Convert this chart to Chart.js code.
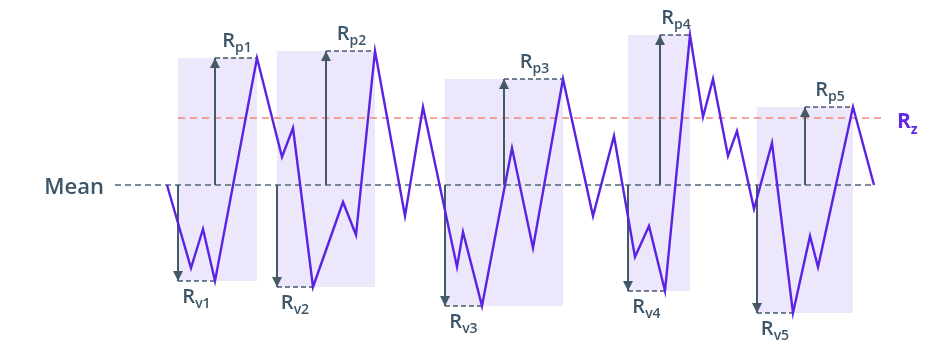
<!DOCTYPE html>
<html>
<head>
<meta charset="utf-8">
<script src="https://cdn.jsdelivr.net/npm/chart.js@4"></script>
<style>
  body { margin: 0; background: #ffffff; }
  #box { width: 950px; height: 352px; }
</style>
</head>
<body>
<div id="box"><canvas id="perfil"></canvas></div>
<script>
// roughness profile (x along the sample, height relative to the mean line)
const profileX = [167, 191, 203, 215, 257, 282, 293, 313, 343, 356, 375, 405, 423, 457, 463, 482, 512, 533,
                  563, 593, 614, 635, 649, 665, 690, 703, 713, 728, 737, 754, 772, 793, 810, 818, 853, 874];
const profileY = [0, -83, -44, -96, 127, 28, 57, -102, -17, -50, 134, -31, 78, -82, -47, -121, 37, -63,
                  106, -31, 49, -72, -41, -106, 150, 68, 106, 29, 54, -24, 42, -128, -51, -82, 78, 0];

// five sampling sections
const sectionStart = [178, 277, 445, 628, 757];
const sectionEnd = [257, 375, 563, 690, 853];
const peakHeight = [127, 134, 106, 150, 78];
const valleyHeight = [-96, -102, -121, -106, -128];
const peakX = [257, 375, 563, 690, 853];
const valleyX = [215, 313, 482, 665, 793];
const peakArrowX = [215, 326, 504, 660, 805];
const peakLabels = ['p1', 'p2', 'p3', 'p4', 'p5'];
const valleyLabels = ['v1', 'v2', 'v3', 'v4', 'v5'];

// reference lines
const meanLevel = 0;
const meanRange = [115, 875];
const rzLevel = 67;
const rzRange = [178, 883];

const corPerfil = '#5a22e2';
const corSeta = '#445a69';
const corTexto = '#3d5568';

var datasets = [];

datasets.push({
    data: profileX.map((x, i) => ({ x: x, y: profileY[i] })),
    borderColor: corPerfil,
    borderWidth: 2.4,
    pointRadius: 0,
    showLine: true,
    order: 0
});

for (let i = 0; i < sectionStart.length; i++) {
    // shaded box
    datasets.push({
        data: [{ x: sectionStart[i], y: peakHeight[i] }, { x: sectionEnd[i], y: peakHeight[i] }],
        borderWidth: 0,
        borderColor: 'rgba(0,0,0,0)',
        backgroundColor: '#ece7fb',
        fill: { value: valleyHeight[i] },
        pointRadius: 0,
        showLine: true,
        order: 10
    });
    // peak arrow
    datasets.push({
        data: [{ x: peakArrowX[i], y: meanLevel }, { x: peakArrowX[i], y: peakHeight[i] }],
        borderColor: corSeta,
        borderWidth: 2,
        pointRadius: 0,
        showLine: true,
        arrow: 'up',
        order: 1
    });
    // valley arrow
    datasets.push({
        data: [{ x: sectionStart[i], y: meanLevel }, { x: sectionStart[i], y: valleyHeight[i] }],
        borderColor: corSeta,
        borderWidth: 2,
        pointRadius: 0,
        showLine: true,
        arrow: 'down',
        order: 1
    });
    // dashed peak / valley levels
    datasets.push({
        data: [{ x: peakArrowX[i], y: peakHeight[i] }, { x: peakX[i], y: peakHeight[i] }],
        borderColor: corSeta,
        borderWidth: 1.5,
        borderDash: [5, 3],
        pointRadius: 0,
        showLine: true,
        order: 2
    });
    datasets.push({
        data: [{ x: sectionStart[i], y: valleyHeight[i] }, { x: valleyX[i], y: valleyHeight[i] }],
        borderColor: corSeta,
        borderWidth: 1.5,
        borderDash: [5, 3],
        pointRadius: 0,
        showLine: true,
        order: 2
    });
}

datasets.push({
    data: [{ x: meanRange[0], y: meanLevel }, { x: meanRange[1], y: meanLevel }],
    borderColor: '#52677a',
    borderWidth: 1.5,
    borderDash: [6, 4],
    pointRadius: 0,
    showLine: true,
    order: 3
});
datasets.push({
    data: [{ x: rzRange[0], y: rzLevel }, { x: rzRange[1], y: rzLevel }],
    borderColor: '#f2877b',
    borderWidth: 1.5,
    borderDash: [7, 5],
    pointRadius: 0,
    showLine: true,
    order: 3
});

function escreverR(ctx, sub, x, y, cor, peso, tam, tamSub, desce, centro) {
    ctx.fillStyle = cor;
    ctx.textBaseline = 'alphabetic';
    ctx.textAlign = 'left';
    ctx.font = `${peso} ${tam}px "Open Sans"`;
    var wR = ctx.measureText('R').width;
    ctx.font = `${peso} ${tamSub}px "Open Sans"`;
    var wS = ctx.measureText(sub).width;
    var x0 = centro ? x - (wR + wS) / 2 : x;
    ctx.font = `${peso} ${tam}px "Open Sans"`;
    ctx.fillText('R', x0, y);
    ctx.font = `${peso} ${tamSub}px "Open Sans"`;
    ctx.fillText(sub, x0 + wR, y + desce);
}

const anotacoes = {
    id: 'anotacoes',
    afterDatasetsDraw(chart) {
        const ctx = chart.ctx;
        const sx = chart.scales.x;
        const sy = chart.scales.y;
        ctx.save();

        // arrow heads
        chart.data.datasets.forEach((ds, k) => {
            if (!ds.arrow) return;
            const meta = chart.getDatasetMeta(k);
            const p = meta.data[meta.data.length - 1];
            const d = ds.arrow === 'up' ? 1 : -1;
            ctx.fillStyle = corSeta;
            ctx.beginPath();
            ctx.moveTo(p.x, p.y);
            ctx.lineTo(p.x - 5, p.y + d * 10);
            ctx.lineTo(p.x + 5, p.y + d * 10);
            ctx.closePath();
            ctx.fill();
        });

        // R labels
        for (let i = 0; i < peakLabels.length; i++) {
            const xp = (sx.getPixelForValue(peakArrowX[i]) + sx.getPixelForValue(peakX[i])) / 2;
            escreverR(ctx, peakLabels[i], xp + 1, sy.getPixelForValue(peakHeight[i]) - 11,
                corTexto, 600, 20, 14, 5, true);
            const xv = (sx.getPixelForValue(sectionStart[i]) + sx.getPixelForValue(valleyX[i])) / 2;
            escreverR(ctx, valleyLabels[i], xv, sy.getPixelForValue(valleyHeight[i]) + 22,
                corTexto, 600, 20, 14, 5, true);
        }

        // Mean
        ctx.fillStyle = corTexto;
        ctx.font = '600 22px "Open Sans"';
        ctx.textAlign = 'right';
        ctx.textBaseline = 'alphabetic';
        ctx.fillText('Mean', sx.getPixelForValue(meanRange[0]) - 11, sy.getPixelForValue(meanLevel) + 9);

        // Rz
        escreverR(ctx, 'z', sx.getPixelForValue(rzRange[1]) + 14, sy.getPixelForValue(rzLevel) + 10,
            '#6229e4', 700, 21, 14, 6, false);

        ctx.restore();
    }
};

var grafico = new Chart(document.getElementById('perfil'), {
    type: 'scatter',
    data: { datasets: datasets },
    options: {
        responsive: true,
        maintainAspectRatio: false,
        animation: false,
        layout: { padding: 0 },
        plugins: {
            legend: { display: false },
            tooltip: { enabled: false }
        },
        scales: {
            x: { type: 'linear', min: 0, max: 950, display: false },
            y: { type: 'linear', min: -167, max: 185, display: false }
        }
    },
    plugins: [anotacoes]
});
</script>
</body>
</html>
